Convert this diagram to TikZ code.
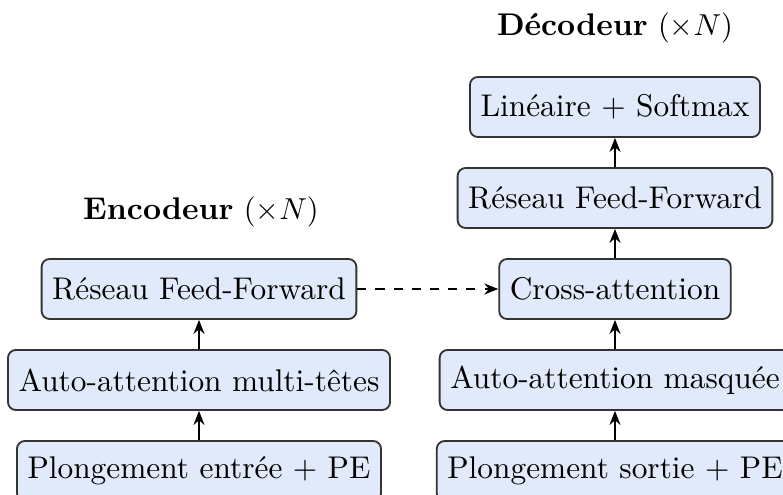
\documentclass[tikz,border=0pt]{standalone}
\usetikzlibrary{arrows.meta}
\definecolor{boxfill}{HTML}{E1EAFA}
\definecolor{boxline}{HTML}{333333}
\begin{document}
\begin{tikzpicture}[x=0.33pt,y=-0.33pt,
  font=\fontsize{10.35}{12.4}\selectfont,
  block/.style={draw=boxline,fill=boxfill,rounded corners=2.6pt,line width=0.6pt,
    minimum height=19.8pt,inner xsep=3.5pt,inner ysep=0pt},
  title/.style={},
  flow/.style={-{Stealth[length=4.6pt,width=3.6pt]},line width=0.75pt},
  link/.style={flow,dashed}]
\useasboundingbox (0,0) rectangle (783,495);
\clip (0,0) rectangle (783,495);
% encoder stack
\node[title] (enct) at (201,212) {\textbf{Encodeur} $(\times N)$};
\node[block] (ffn) at (199,289) {Réseau Feed-Forward};
\node[block] (mha) at (199,380) {Auto-attention multi-têtes};
\node[block] (emb) at (199,471) {Plongement entrée + PE};
% decoder stack
\node[title] (dect) at (615,28) {\textbf{Décodeur} $(\times N)$};
\node[block] (lin) at (615,107) {Linéaire + Softmax};
\node[block] (dffn) at (615,198) {Réseau Feed-Forward};
\node[block] (cross) at (615,289) {Cross-attention};
\node[block] (mask) at (615,380) {Auto-attention masquée};
\node[block] (demb) at (615,471) {Plongement sortie + PE};
% connectors
\draw[flow] (emb) -- (mha);
\draw[flow] (mha) -- (ffn);
\draw[flow] (demb) -- (mask);
\draw[flow] (mask) -- (cross);
\draw[flow] (cross) -- (dffn);
\draw[flow] (dffn) -- (lin);
\draw[link] (ffn) -- (cross);
\end{tikzpicture}
\end{document}
